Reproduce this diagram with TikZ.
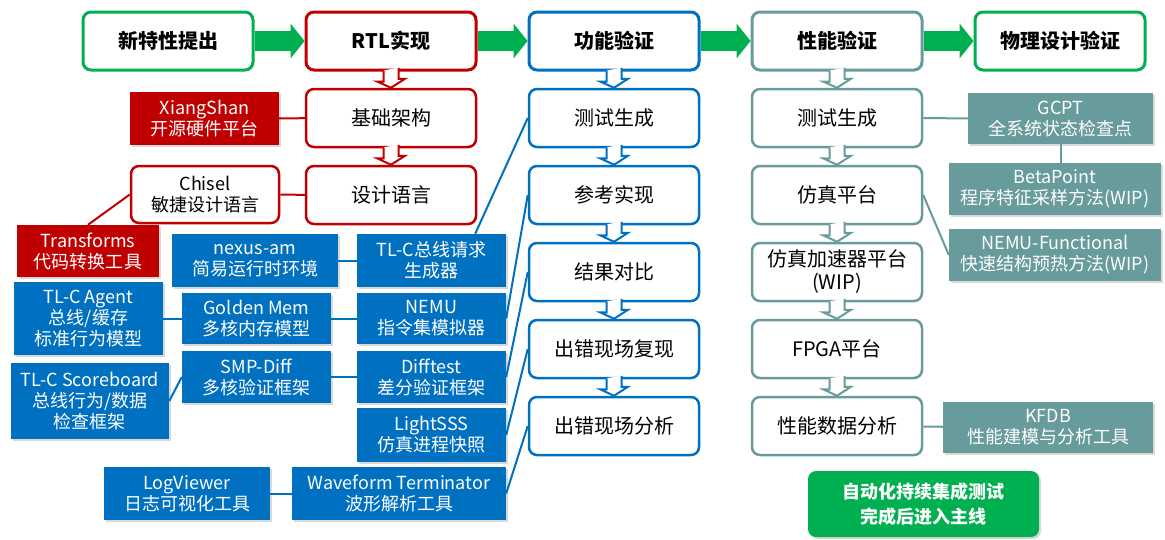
\documentclass[tikz,border=0pt]{standalone}
\usepackage{fontspec}
\setmainfont{Noto Sans CJK SC}
\usetikzlibrary{calc,shadows,arrows.meta}

\definecolor{flowgreen}{HTML}{00B050}
\definecolor{rtlred}{HTML}{C00000}
\definecolor{verblue}{HTML}{0070C0}
\definecolor{perfteal}{HTML}{689B9B}

\tikzset{
  stage/.style={draw=#1, line width=3pt, rounded corners=8pt, fill=white,
    minimum width=170pt, minimum height=58pt, inner sep=0pt,
    font=\fontsize{20}{23}\selectfont\bfseries},
  substage/.style={draw=#1, line width=2.5pt, rounded corners=8pt, fill=white,
    minimum width=170pt, minimum height=58pt, inner sep=0pt, align=center,
    font=\fontsize{20}{23}\selectfont},
  tool/.style={fill=#1, text=white, inner sep=0pt, align=center,
    font=\fontsize{18}{21}\selectfont,
    drop shadow={shadow xshift=2pt, shadow yshift=-2pt, opacity=0.3}},
  link/.style={draw=#1, line width=2pt},
  flowarrow/.style={draw=flowgreen, line width=20pt,
    -{Triangle[length=14pt, width=35pt, line width=0pt]}},
}

\begin{document}
\begin{tikzpicture}[x=1pt, y=-1pt]
  \useasboundingbox (0,0) rectangle (1165,539);

  % Main flow on the top line
  \node[stage=flowgreen] (newf) at (168,41) {新特性提出};
  \node[stage=rtlred] (rtl) at (391,41) {RTL实现};
  \node[stage=verblue] (func) at (614,41) {功能验证};
  \node[stage=perfteal] (perf) at (837,41) {性能验证};
  \node[stage=flowgreen] (phys) at (1060,41) {物理设计验证};
  \foreach \a/\b in {newf/rtl, rtl/func, func/perf, perf/phys}
    \draw[flowarrow] (\a) -- (\b);

  % RTL column
  \node[substage=rtlred] (base) at (391,118) {基础架构};
  \node[substage=rtlred] (lang) at (391,195) {设计语言};

  % Functional verification column
  \node[substage=verblue] (cgen) at (614,118) {测试生成};
  \node[substage=verblue] (cref) at (614,195) {参考实现};
  \node[substage=verblue] (ccmp) at (614,272) {结果对比};
  \node[substage=verblue] (crep) at (614,349) {出错现场复现};
  \node[substage=verblue] (cana) at (614,426) {出错现场分析};

  % Performance verification column
  \node[substage=perfteal] (dgen) at (837,118) {测试生成};
  \node[substage=perfteal] (dsim) at (837,195) {仿真平台};
  \node[substage=perfteal] (dacc) at (837,272) {仿真加速器平台\\(WIP)};
  \node[substage=perfteal] (dfpga) at (837,349) {FPGA平台};
  \node[substage=perfteal] (dana) at (837,426) {性能数据分析};

  % Hollow arrows down the columns
  \foreach \a/\b/\c in {rtl/base/rtlred, base/lang/rtlred,
      func/cgen/verblue, cgen/cref/verblue, cref/ccmp/verblue, ccmp/crep/verblue, crep/cana/verblue,
      perf/dgen/perfteal, dgen/dsim/perfteal, dsim/dacc/perfteal, dacc/dfpga/perfteal, dfpga/dana/perfteal}
    \draw[draw=\c, line width=2pt, fill=white] ($(\a.south)+(-7.5,-1)$) -- ++(0,11) -- ++(-6.5,0)
      -- (\b.north) -- ++(14,-9) -- ++(-6.5,0) -- ++(0,-11);

  % Red tools
  \node[tool=rtlred, minimum width=149pt, minimum height=53pt] (xs) at (204.5,118.5) {XiangShan\\开源硬件平台};
  \node[draw=rtlred, line width=2.5pt, rounded corners=8pt, fill=white, minimum width=148pt, minimum height=57pt,
    inner sep=0pt, align=center, font=\fontsize{18}{21}\selectfont] (chisel) at (205,194.5) {Chisel\\敏捷设计语言};
  \node[tool=rtlred, minimum width=142pt, minimum height=52pt] (trans) at (88,251) {Transforms\\代码转换工具};
  \draw[link=rtlred] (xs) -- (base);
  \draw[link=rtlred] (chisel) -- (lang);
  \draw[link=rtlred] (trans.north) -- (chisel.west);

  % Blue tools
  \node[tool=verblue, minimum width=166pt, minimum height=53pt] (nexus) at (255,260.5) {nexus-am\\简易运行时环境};
  \node[tool=verblue, minimum width=149pt, minimum height=53pt] (tlcreq) at (431.5,260.5) {TL-C总线请求\\生成器};
  \node[tool=verblue, minimum width=149pt, minimum height=73pt] (agent) at (88.5,318.5) {TL-C Agent\\总线/缓存\\标准行为模型};
  \node[tool=verblue, minimum width=149pt, minimum height=51pt] (golden) at (256.5,318.5) {Golden Mem\\多核内存模型};
  \node[tool=verblue, minimum width=149pt, minimum height=51pt] (nemu) at (431.5,318.5) {NEMU\\指令集模拟器};
  \node[tool=verblue, minimum width=158pt, minimum height=76pt] (board) at (90,401) {TL-C Scoreboard\\总线行为/数据\\检查框架};
  \node[tool=verblue, minimum width=149pt, minimum height=52pt] (smp) at (256.5,377) {SMP-Diff\\多核验证框架};
  \node[tool=verblue, minimum width=149pt, minimum height=52pt] (difft) at (431.5,377) {Difftest\\差分验证框架};
  \node[tool=verblue, minimum width=149pt, minimum height=54pt] (sss) at (431.5,435) {LightSSS\\仿真进程快照};
  \node[tool=verblue, minimum width=166pt, minimum height=53pt] (logv) at (187,493.5) {LogViewer\\日志可视化工具};
  \node[tool=verblue, minimum width=214pt, minimum height=53pt] (wave) at (399,493.5) {Waveform Terminator\\波形解析工具};
  \draw[link=verblue] (nexus) -- (tlcreq);
  \draw[link=verblue] ($(tlcreq.north east)+(-31,0)$) -- (cgen.west);
  \draw[link=verblue] (agent) -- (golden);
  \draw[link=verblue] (golden) -- (nemu);
  \draw[link=verblue] (nemu.east) -- (cref.west);
  \draw[link=verblue] (board.east) -- (smp.west);
  \draw[link=verblue] (smp) -- (difft);
  \draw[link=verblue] (difft.east) -- (ccmp.west);
  \draw[link=verblue] (sss.east) -- (crep.west);
  \draw[link=verblue] (logv) -- (wave);
  \draw[link=verblue] (wave.east) -- (cana.west);

  % Teal tools
  \node[tool=perfteal, minimum width=185pt, minimum height=51pt] (gcpt) at (1060.5,118.5) {GCPT\\全系统状态检查点};
  \node[tool=perfteal, minimum width=212pt, minimum height=52pt] (beta) at (1055,189) {BetaPoint\\程序特征采样方法(WIP)};
  \node[tool=perfteal, minimum width=212pt, minimum height=52pt] (nemuf) at (1055,255) {NEMU-Functional\\快速结构预热方法(WIP)};
  \node[tool=perfteal, minimum width=210pt, minimum height=51pt] (kfdb) at (1048,427.5) {KFDB\\性能建模与分析工具};
  \draw[link=perfteal] (dgen) -- (gcpt);
  \draw[link=perfteal] (gcpt.south) -- (gcpt.south |- beta.north);
  \draw[link=perfteal] (dsim.east) -- (nemuf.west);
  \draw[link=perfteal] (dana) -- (kfdb);

  % Merge note
  \node[tool=flowgreen, rounded corners=8pt, minimum width=231pt, minimum height=66pt,
    font=\fontsize{18}{25}\selectfont\bfseries] (ci) at (923.5,504) {自动化持续集成测试\\完成后进入主线};

\end{tikzpicture}
\end{document}
